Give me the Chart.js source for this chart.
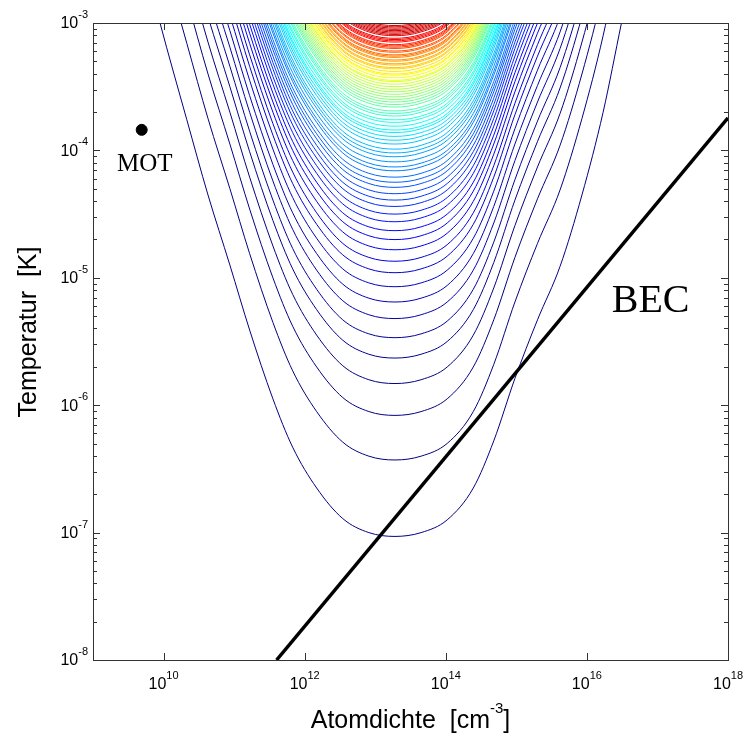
<!DOCTYPE html>
<html lang="de">
<head>
    <meta charset="UTF-8">
    <title>Atomdichte und Temperatur</title>
    <script src="https://cdn.jsdelivr.net/npm/chart.js"></script>
    <style>
        body {
            margin: 0;
            background-color: #fff;
        }

        .wrap {
            width: 744px;
            height: 733px;
        }
    </style>
</head>
<body>
    <div class="wrap">
        <canvas id="phaseChart" width="744" height="733"></canvas>
    </div>

    <script>
        // tick positions, as powers of ten
        const xTickExp = [10, 12, 14, 16, 18];
        const yTickExp = [-8, -7, -6, -5, -4, -3];

        // log10 of the lowest temperature of every contour, bottom curve first
        const contourMinLogT = [
            -7.03, -6.43, -6.08, -5.83, -5.63, -5.47, -5.32, -5.19, -5.07, -4.96,
            -4.87, -4.78, -4.70, -4.63, -4.56, -4.50, -4.44, -4.39, -4.34, -4.29,
            -4.25, -4.21, -4.16, -4.13, -4.09, -4.05, -4.02, -3.99, -3.95, -3.92,
            -3.89, -3.86, -3.84, -3.81, -3.78, -3.76, -3.73, -3.71, -3.69, -3.66,
            -3.64, -3.62, -3.60, -3.58, -3.56, -3.54, -3.52, -3.50, -3.48, -3.46,
            -3.45, -3.43, -3.41, -3.40, -3.38, -3.36, -3.35, -3.33, -3.32, -3.30,
            -3.29, -3.27, -3.26, -3.25, -3.23, -3.22, -3.20, -3.19, -3.18, -3.17,
            -3.15, -3.14, -3.13, -3.12, -3.10, -3.09, -3.08, -3.07, -3.06, -3.05,
            -3.04, -3.03, -3.02, -3.005
        ];

        // density (log10 cm^-3) where the curves bottom out
        const contourCenterLogN = 13.28;

        // shape of one contour:
        // offset from the centre in decades of density, rise above the minimum in decades of T
        const profileDn = [-3.5, -3.33, -2.95, -2.65, -2.34, -2.06, -1.73, -1.45, -1.11, -0.74, -0.37, 0,
                           0.37, 0.74, 1.11, 1.40, 1.70, 2.02, 2.34, 2.65, 2.95, 3.21, 3.35];
        const profileDt = [4.40, 4.03, 3.27, 2.68, 2.13, 1.62, 1.08, 0.70, 0.38, 0.14, 0.03, 0,
                           0.03, 0.13, 0.38, 0.75, 1.24, 1.70, 2.12, 2.68, 3.33, 4.03, 4.40];

        // BEC transition line
        const becN = [4.0e11, 1.0e18];
        const becT = [1.0e-8, 1.8e-4];

        // MOT starting point
        const motN = [4.9e9];
        const motT = [1.45e-4];

        function jet(v) {
            const c = t => Math.round(255 * Math.max(0, Math.min(1, 1.5 - Math.abs(4 * v - t))));
            return 'rgb(' + c(3) + ',' + c(2) + ',' + c(1) + ')';
        }

        const contourSets = contourMinLogT.map(function(minLog, k) {
            return {
                data: profileDn.map(function(dn, i) {
                    return { x: Math.pow(10, contourCenterLogN + dn), y: Math.pow(10, minLog + profileDt[i]) };
                }),
                showLine: true,
                borderColor: jet(Math.min(0.92, Math.max(0, (k - 3) / 78))),
                borderWidth: 1,
                pointRadius: 0,
                cubicInterpolationMode: 'monotone',
            };
        });

        const sansFont = '"Liberation Sans", Arial, sans-serif';
        const serifFont = '"Liberation Serif", "Times New Roman", serif';

        // "10" with a raised exponent
        function drawPower(ctx, exp, x, y, align) {
            const base = '10';
            const sup = String(exp);
            ctx.font = '16px ' + sansFont;
            const wb = ctx.measureText(base).width;
            ctx.font = '11px ' + sansFont;
            const ws = ctx.measureText(sup).width;
            let sx = x;
            if (align === 'right') sx = x - wb - ws;
            if (align === 'center') sx = x - (wb + ws) / 2;
            ctx.textAlign = 'left';
            ctx.textBaseline = 'middle';
            ctx.font = '16px ' + sansFont;
            ctx.fillText(base, sx, y);
            ctx.font = '11px ' + sansFont;
            ctx.fillText(sup, sx + wb, y - 9);
        }

        const framePlugin = {
            id: 'frame',
            afterDatasetsDraw(chart) {
                const ctx = chart.ctx;
                const a = chart.chartArea;
                const xs = chart.scales.x;
                const ys = chart.scales.y;
                ctx.save();
                ctx.strokeStyle = '#333';
                ctx.lineWidth = 1;
                ctx.strokeRect(Math.round(a.left) + 0.5, Math.round(a.top) + 0.5,
                               Math.round(a.right - a.left), Math.round(a.bottom - a.top));

                function seg(x1, y1, x2, y2) {
                    ctx.beginPath();
                    ctx.moveTo(x1, y1);
                    ctx.lineTo(x2, y2);
                    ctx.stroke();
                }

                // y ticks with log minors, on both sides
                yTickExp.forEach(function(e) {
                    for (let m = 1; m <= 9; m++) {
                        const v = m * Math.pow(10, e);
                        if (v > ys.max * 1.001) break;
                        const py = Math.round(ys.getPixelForValue(v)) + 0.5;
                        const len = m === 1 ? 7 : 4;
                        seg(a.left, py, a.left + len, py);
                        seg(a.right, py, a.right - len, py);
                    }
                });

                // x ticks, bottom and top
                xTickExp.forEach(function(e) {
                    const px = Math.round(xs.getPixelForValue(Math.pow(10, e))) + 0.5;
                    seg(px, a.bottom, px, a.bottom - 7);
                    seg(px, a.top, px, a.top + 7);
                });

                ctx.fillStyle = '#000';
                yTickExp.forEach(function(e) {
                    drawPower(ctx, e, a.left - 5, ys.getPixelForValue(Math.pow(10, e)) + 1, 'right');
                });
                xTickExp.forEach(function(e) {
                    drawPower(ctx, e, xs.getPixelForValue(Math.pow(10, e)), a.bottom + 25, 'center');
                });

                // axis titles
                ctx.textBaseline = 'alphabetic';
                ctx.textAlign = 'left';
                ctx.font = '25px ' + sansFont;
                const t1 = 'Atomdichte  [cm';
                const w1 = ctx.measureText(t1).width;
                ctx.font = '15px ' + sansFont;
                const w2 = ctx.measureText('-3').width;
                ctx.font = '25px ' + sansFont;
                const w3 = ctx.measureText(']').width;
                let tx = (a.left + a.right) / 2 - (w1 + w2 + w3) / 2;
                ctx.fillText(t1, tx, 728);
                ctx.font = '15px ' + sansFont;
                ctx.fillText('-3', tx + w1, 713);
                ctx.font = '25px ' + sansFont;
                ctx.fillText(']', tx + w1 + w2, 728);

                ctx.save();
                ctx.translate(36, 332);
                ctx.rotate(-Math.PI / 2);
                ctx.textAlign = 'center';
                ctx.fillText('Temperatur  [K]', 0, 0);
                ctx.restore();

                // annotations
                ctx.font = '25px ' + serifFont;
                ctx.textAlign = 'center';
                ctx.fillText('MOT', xs.getPixelForValue(motN[0]) + 3, ys.getPixelForValue(motT[0]) + 41);
                ctx.font = '40px ' + serifFont;
                ctx.fillText('BEC', xs.getPixelForValue(8e16), ys.getPixelForValue(7e-6) + 14);
                ctx.restore();
            }
        };

        new Chart(document.getElementById('phaseChart'), {
            type: 'scatter',
            data: {
                datasets: [
                    {
                        data: becN.map((n, i) => ({ x: n, y: becT[i] })),
                        showLine: true,
                        borderColor: '#000',
                        borderWidth: 3.5,
                        pointRadius: 0,
                    },
                    {
                        data: motN.map((n, i) => ({ x: n, y: motT[i] })),
                        backgroundColor: '#000',
                        borderColor: '#000',
                        pointRadius: 5.5,
                    },
                ].concat(contourSets),
            },
            options: {
                responsive: false,
                animation: false,
                layout: {
                    padding: { left: 93, top: 23, right: 16, bottom: 73 },
                },
                scales: {
                    x: { type: 'logarithmic', min: 1e9, max: 1e18, display: false },
                    y: { type: 'logarithmic', min: 1e-8, max: 1e-3, display: false },
                },
                plugins: {
                    legend: { display: false },
                    tooltip: { enabled: false },
                },
            },
            plugins: [framePlugin],
        });
    </script>
</body>
</html>
